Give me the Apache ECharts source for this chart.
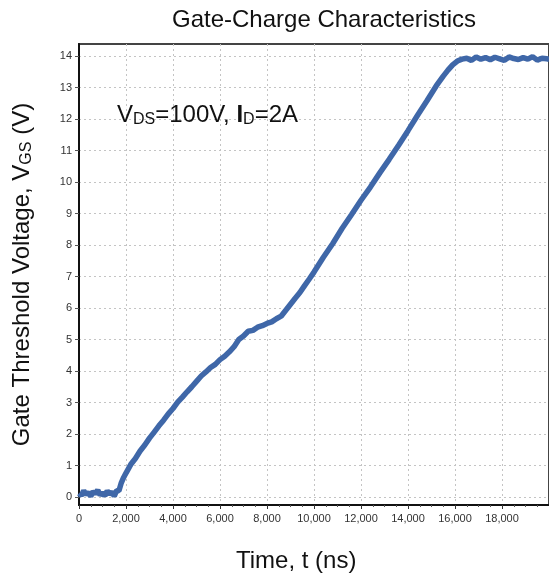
<!DOCTYPE html>
<html>
<head>
<meta charset="utf-8">
<script src="https://cdn.jsdelivr.net/npm/echarts@6/dist/echarts.min.js"></script>
<style>
  html, body { margin: 0; padding: 0; background: #fff; }
  #chart { width: 549px; height: 576px; }
</style>
</head>
<body>
<div id="chart"></div>
<script>
// time in ns, gate voltage in V
var timeNs = [
  0, 100, 200, 300, 400, 500, 600, 700, 800, 900, 1000, 1100, 1200, 1300, 1400, 1500, 1600, 1700,
  1800, 1900, 2000, 2200, 2400, 2600, 2800, 3000, 3200, 3400, 3600, 3800, 4000, 4200, 4400, 4600,
  4800, 5000, 5200, 5400, 5600, 5800, 6000, 6200, 6400, 6600, 6800, 7000, 7200, 7400, 7600, 7800,
  8000, 8200, 8400, 8600, 8800, 9000, 9200, 9400, 9600, 9800, 10000, 10400, 10800, 11200, 11600,
  12000, 12400, 12800, 13200, 13600, 14000, 14400, 14800, 15200, 15500, 15700, 15900, 16100, 16300,
  16500, 16700, 16900, 17100, 17300, 17500, 17700, 17900, 18100, 18300, 18500, 18700, 18900, 19100,
  19300, 19500, 19700, 19900, 20000
];
var vgs = [
  0.12, 0.05, 0.2, 0.08, 0.15, 0.02, 0.18, 0.1, 0.22, 0.06, 0.14, 0.04, 0.19, 0.09, 0.16, 0.03, 0.2, 0.2,
  0.45, 0.62, 0.76, 1.03, 1.22, 1.46, 1.65, 1.87, 2.06, 2.26, 2.44, 2.64, 2.81, 3.01, 3.17, 3.34,
  3.5, 3.67, 3.84, 3.97, 4.11, 4.21, 4.36, 4.47, 4.61, 4.77, 5.0, 5.11, 5.26, 5.29, 5.39, 5.44,
  5.51, 5.56, 5.66, 5.74, 5.93, 6.12, 6.31, 6.49, 6.71, 6.92, 7.14, 7.61, 8.05, 8.53, 8.97,
  9.42, 9.84, 10.29, 10.72, 11.17, 11.63, 12.11, 12.57, 13.05, 13.36, 13.55, 13.72, 13.84, 13.9,
  13.93, 13.86, 13.97, 13.9, 13.95, 13.88, 13.96, 13.91, 13.86, 13.97, 13.92, 13.89, 13.95, 13.9,
  13.98, 13.87, 13.93, 13.91, 13.9
];
var xTicks = { min: 0, max: 20000, step: 2000 };
var yTicks = { min: 0, max: 14, step: 1 };

var trace = timeNs.map(function (t, i) { return [t, vgs[i]]; });

var chart = echarts.init(document.getElementById('chart'));
var font = 'Liberation Sans, Arial, sans-serif';
var dashGrid = { show: true, lineStyle: { type: [2, 3], color: '#c4c4c4', width: 1 } };

var option = {
  backgroundColor: '#fff',
  animation: false,
  title: [
    {
      text: 'Gate-Charge Characteristics',
      left: 172, top: 8, padding: 0,
      textStyle: { fontFamily: font, fontSize: 24, fontWeight: 'normal', color: '#111' }
    },
    {
      text: 'Time, t (ns)',
      left: 236, top: 549, padding: 0,
      textStyle: { fontFamily: font, fontSize: 24, fontWeight: 'normal', color: '#111' }
    },
    {
      text: 'V{s|DS}=100V, {b|I}{s|D}=2A',
      left: 117, top: 103, padding: 0,
      textStyle: {
        fontFamily: font, fontSize: 24, fontWeight: 'normal', color: '#111',
        rich: {
          s: { fontFamily: font, fontSize: 16, color: '#111', verticalAlign: 'bottom', padding: [9, 0, 0, 0] },
          b: { fontFamily: font, fontSize: 24, fontWeight: 'bold', color: '#111' }
        }
      }
    }
  ],
  grid: [
    // outer frame
    { left: 79, right: -3, top: 44, bottom: 71, show: true, borderColor: '#444', borderWidth: 2, backgroundColor: '#fff' },
    // data area, 0..14 V
    { left: 79, right: -3, top: 56, bottom: 79 }
  ],
  xAxis: [
    {
      gridIndex: 0, type: 'value',
      min: xTicks.min, max: xTicks.max, interval: xTicks.step,
      axisLine: { show: true, lineStyle: { color: '#111', width: 2 } },
      axisTick: { show: true, length: 4, lineStyle: { color: '#333' } },
      minorTick: { show: true, splitNumber: 4, length: 2, lineStyle: { color: '#555' } },
      axisLabel: {
        fontFamily: font, fontSize: 11, color: '#333', margin: 8, showMaxLabel: false,
        formatter: function (v) { return v.toLocaleString('en-US'); }
      },
      splitLine: dashGrid
    },
    { gridIndex: 1, type: 'value', min: xTicks.min, max: xTicks.max, show: false }
  ],
  yAxis: [
    {
      gridIndex: 0, type: 'value', min: 0, max: 1,
      axisLine: { show: true, lineStyle: { color: '#111', width: 2 } },
      axisTick: { show: false }, axisLabel: { show: false }, splitLine: { show: false },
      name: 'Gate Threshold Voltage, V{s|GS} (V)',
      nameLocation: 'middle', nameRotate: 90, nameGap: 44,
      nameTextStyle: {
        fontFamily: font, fontSize: 24, color: '#111',
        rich: { s: { fontFamily: font, fontSize: 16, color: '#111', verticalAlign: 'bottom', padding: [9, 0, 0, 0] } }
      }
    },
    {
      gridIndex: 1, type: 'value',
      min: yTicks.min, max: yTicks.max, interval: yTicks.step,
      axisLine: { show: false },
      axisTick: { show: true, length: 4, lineStyle: { color: '#555' } },
      axisLabel: { fontFamily: font, fontSize: 11, color: '#333', margin: 7 },
      splitLine: dashGrid
    }
  ],
  series: [{
    type: 'line',
    xAxisIndex: 1, yAxisIndex: 1,
    data: trace,
    showSymbol: false,
    clip: false,
    lineStyle: { color: '#3f67a8', width: 5.5 },
    z: 5
  }]
};
chart.setOption(option);
</script>
</body>
</html>
